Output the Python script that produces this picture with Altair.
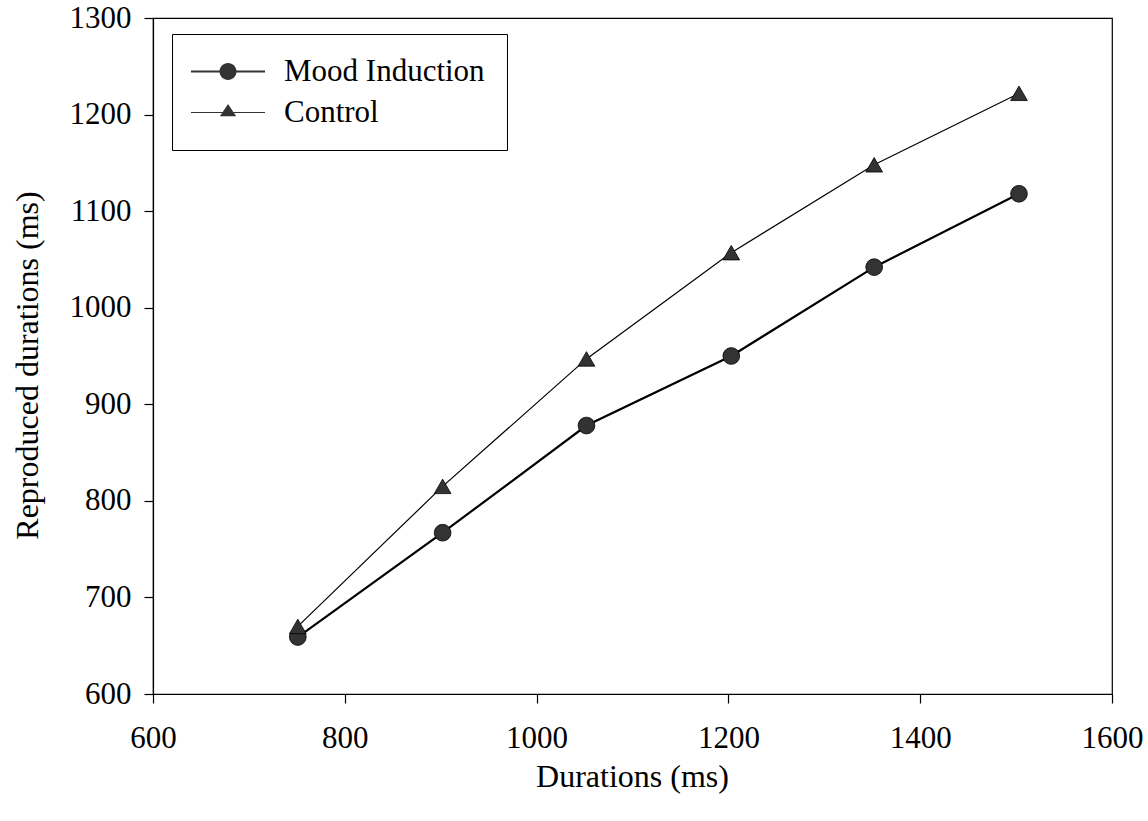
import altair as alt
import pandas as pd

durations = [751, 902, 1052, 1203, 1352, 1503]
mood_induction = [659, 767, 878, 950, 1042, 1118]
control = [670, 815, 947, 1057, 1148, 1222]
series_names = ["Mood Induction", "Control"]
x_ticks = [600, 800, 1000, 1200, 1400, 1600]
y_ticks = [600, 700, 800, 900, 1000, 1100, 1200, 1300]

df = pd.DataFrame({
    "Durations": durations + durations,
    "Reproduced": mood_induction + control,
    "Group": [series_names[0]] * len(durations) + [series_names[1]] * len(durations),
})

FONT = "Liberation Serif"
MARKER = "#333333"

# legend glyphs (unit-box paths): a filled thin bar (the line) with the marker on it
P_CIRCLE = ("M-2.18,-0.12L6.53,-0.12L6.53,0.12L-2.18,0.12Z"
            "M3.18,0A1,1,0,1,1,1.18,0A1,1,0,1,1,3.18,0Z")
P_TRI = ("M-2.18,-0.07L6.53,-0.07L6.53,0.07L-2.18,0.07Z"
         "M2.18,-1.0L3.14,0.45L1.22,0.45Z")

x_enc = alt.X(
    "Durations:Q",
    scale=alt.Scale(domain=[600, 1600], nice=False, zero=False),
    axis=alt.Axis(
        values=x_ticks, title="Durations (ms)", format="d",
        labelFlush=False, labelOverlap=False, labelPadding=20,
        titleX=479, titleY=92, titleBaseline="alphabetic", titleAlign="center",
    ),
)
y_enc = alt.Y(
    "Reproduced:Q",
    scale=alt.Scale(domain=[600, 1300], nice=False, zero=False),
    axis=alt.Axis(
        values=y_ticks, title="Reproduced durations (ms)", format="d",
        labelOverlap=False, labelPadding=13,
        titleX=-116, titleY=347, titleBaseline="alphabetic", titleAlign="center",
    ),
)

lines = alt.Chart(df).mark_line(color="black").encode(
    x=x_enc,
    y=y_enc,
    strokeWidth=alt.StrokeWidth(
        "Group:N",
        scale=alt.Scale(domain=series_names, range=[2.2, 1.2]),
        legend=None,
    ),
)

points = alt.Chart(df).mark_point(
    filled=True, size=280, stroke="black", strokeWidth=0.8, opacity=1, color=MARKER
).encode(
    x=x_enc,
    y=y_enc,
    shape=alt.Shape(
        "Group:N",
        scale=alt.Scale(domain=series_names, range=["circle", "triangle-up"]),
        legend=None,
    ),
)

# layer with no visible marks that only carries the legend (line + marker glyphs)
legend_layer = alt.Chart(df).mark_point(
    filled=True, opacity=0, color=MARKER
).encode(
    x=x_enc,
    y=y_enc,
    shape=alt.Shape(
        "Group:N",
        scale=alt.Scale(domain=series_names, range=[P_CIRCLE, P_TRI]),
        legend=alt.Legend(
            title=None,
            orient="none",
            legendX=19,
            legendY=16,
            padding=22,
            strokeColor="black",
            fillColor="white",
            cornerRadius=0,
            labelFont=FONT,
            labelFontSize=31,
            labelColor="black",
            labelOffset=59,
            labelLimit=500,
            symbolSize=289,
            symbolOpacity=1,
            symbolFillColor=MARKER,
            symbolStrokeColor=MARKER,
            symbolStrokeWidth=0.3,
            rowPadding=9,
        ),
    ),
)

chart = (
    alt.layer(lines, points, legend_layer)
    .resolve_scale(shape="independent")
    .properties(
        width=959,
        height=676,
        autosize=alt.AutoSizeParams(type="none"),
        padding={"left": 153, "top": 18, "right": 36, "bottom": 127},
        background="white",
    )
    .configure_view(stroke="black", strokeWidth=1.2)
    .configure_axis(
        grid=False,
        domainColor="black",
        domainWidth=1.2,
        tickColor="black",
        tickWidth=1.2,
        tickSize=9,
        labelFont=FONT,
        labelFontSize=31,
        labelColor="black",
        titleFont=FONT,
        titleFontSize=32,
        titleFontWeight="normal",
        titleColor="black",
    )
)

chart.save("out.html", embed_options={"renderer": "svg", "actions": False})
